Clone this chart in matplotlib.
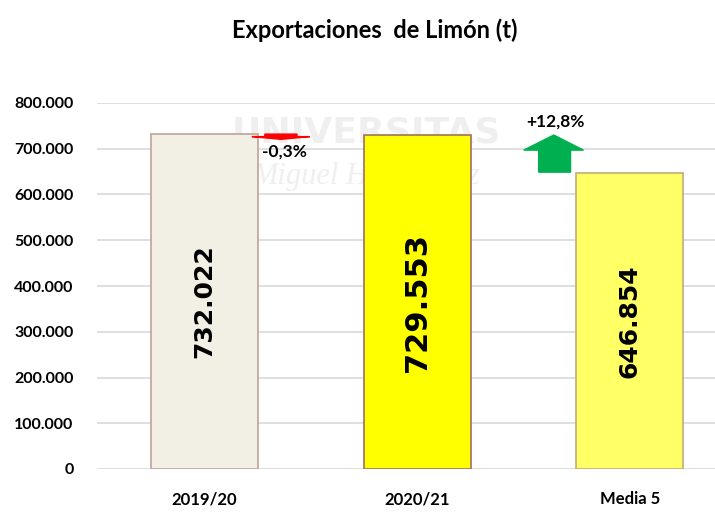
import matplotlib.pyplot as plt
from matplotlib.patches import Polygon
from matplotlib.ticker import FuncFormatter
import numpy as np

# Chart data
categories = ['2019/20', '2020/21', 'Media 5']
values = [732022, 729553, 646854]
change_labels = ['-0,3%', '+12,8%']

bar_colors = ['#F2F0E4', '#FFFF00', '#FFFF66']
edge_colors = ['#BFA39A', '#A07060', '#C8A878']
label_sizes = [18, 22, 18]


def miles(v, pos=None):
    return f'{int(v):,}'.replace(',', '.')


fig = plt.figure(figsize=(7.15, 5.15), dpi=100)
ax = fig.add_axes([97 / 715, 46 / 515, 618 / 715, 366 / 515])

x = np.arange(len(categories))
ax.bar(x, values, width=0.503, color=bar_colors, edgecolor=edge_colors,
       linewidth=1.2, zorder=3)

# Value labels inside the bars
for xi, v, fs in zip(x, values, label_sizes):
    ax.text(xi, v / 2, miles(v), rotation=90, ha='center', va='center',
            fontsize=fs, fontweight='bold', family='DejaVu Sans', zorder=4)

ax.set_xlim(-0.505, 2.4)
ax.set_ylim(0, 800000)
ax.set_yticks(np.arange(0, 800001, 100000))
ax.yaxis.set_major_formatter(FuncFormatter(miles))
ax.set_xticks(x)
ax.set_xticklabels(categories)
ax.grid(axis='y', color='#D9D9D9', linewidth=1.2, zorder=0)
for s in ax.spines.values():
    s.set_visible(False)
ax.tick_params(axis='y', length=0, pad=17, labelsize=11.5)
ax.tick_params(axis='x', length=0, pad=16, labelsize=12)
for lab in ax.get_xticklabels() + ax.get_yticklabels():
    lab.set_family('Lato')
    lab.set_fontweight('bold')

# Faint watermark, behind the bars
ax.text(0.76, 736000, 'UNIVERSITAS', ha='center', va='center', fontsize=26,
        fontweight='bold', color='#EFEFEF', family='DejaVu Sans', zorder=1)
ax.text(0.76, 640000, 'Miguel Hernández', ha='center', va='center', fontsize=22,
        style='italic', color='#EFEFEF', family='Liberation Serif', zorder=1)

# Red (down) change marker between bar 1 and bar 2
top = values[1]
red = Polygon([(0.284, top + 2500), (0.435, top + 2500), (0.435, top - 3000),
               (0.496, top - 3000), (0.36, top - 9000), (0.223, top - 3000),
               (0.284, top - 3000)], closed=True, color='#FF0000', zorder=5)
ax.add_patch(red)
ax.text(0.27, top - 35000, change_labels[0], ha='left', va='center',
        fontsize=12.5, fontweight='bold', family='Lato', zorder=5)

# Green (up) change marker between bar 2 and bar 3
base = values[2]
green = Polygon([(1.571, base + 2000), (1.721, base + 2000), (1.721, 697000),
                 (1.782, 697000), (1.642, 730000), (1.501, 697000),
                 (1.571, 697000)], closed=True, color='#00B050', zorder=5)
ax.add_patch(green)
ax.text(1.65, 759000, change_labels[1], ha='center', va='center',
        fontsize=12.5, fontweight='bold', family='Lato', zorder=5)

fig.text(375 / 715, 1 - 30 / 515, 'Exportaciones  de Limón (t)', ha='center',
         va='center', fontsize=17, fontweight='bold', family='Lato')

fig.savefig('out.png', dpi=100)
